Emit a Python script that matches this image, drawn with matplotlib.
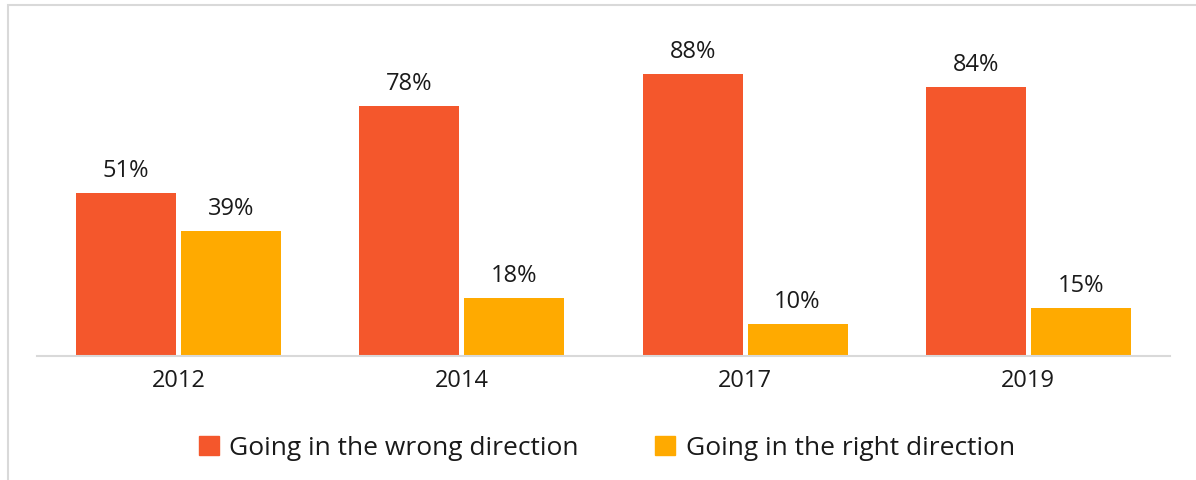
import numpy as np
import matplotlib.pyplot as plt
from matplotlib.patches import Rectangle, Patch

years = ['2012', '2014', '2017', '2019']
wrong = [51, 78, 88, 84]
right = [39, 18, 10, 15]
series_names = ['Going in the wrong direction', 'Going in the right direction']

c_wrong = '#F4572C'
c_right = '#FFAA00'

plt.rcParams['font.family'] = ['Open Sans', 'DejaVu Sans']

fig = plt.figure(figsize=(11.96, 4.81), dpi=100)
ax = fig.add_axes([37 / 1196, 124 / 481, 1133 / 1196, 320 / 481])

x = np.arange(len(years))
w = 0.353
off = 0.185
b1 = ax.bar(x - off, wrong, w, color=c_wrong)
b2 = ax.bar(x + off, right, w, color=c_right)

for bars, vals in ((b1, wrong), (b2, right)):
    for b, v in zip(bars, vals):
        ax.annotate(f'{v}%', (b.get_x() + b.get_width() / 2, v),
                    xytext=(0, 8), textcoords='offset points',
                    ha='center', va='bottom', fontsize=17, color='#1a1a1a')

ax.set_xlim(-0.5, 3.5)
ax.set_ylim(0, 100)
ax.set_xticks(x)
ax.set_xticklabels(years, fontsize=17, color='#1a1a1a')
ax.tick_params(axis='x', length=0, pad=9)
ax.set_yticks([])
for s in ['top', 'right', 'left']:
    ax.spines[s].set_visible(False)
ax.spines['bottom'].set_color('#D9D9D9')
ax.spines['bottom'].set_linewidth(1.5)

handles = [Patch(color=c_wrong), Patch(color=c_right)]
fig.legend(handles, series_names, loc='center', bbox_to_anchor=(607 / 1196, 1 - 449 / 481),
           ncol=2, frameon=False, fontsize=19, handlelength=0.75, handleheight=0.75,
           handletextpad=0.4, columnspacing=2.9, labelcolor='#1a1a1a')

fig.patches.append(Rectangle((8 / 1196, -0.1), 1.2, 1 - 6 / 481 + 0.1, transform=fig.transFigure,
                             fill=False, edgecolor='#D9D9D9', linewidth=1.5))

fig.savefig('out.png', dpi=100)
